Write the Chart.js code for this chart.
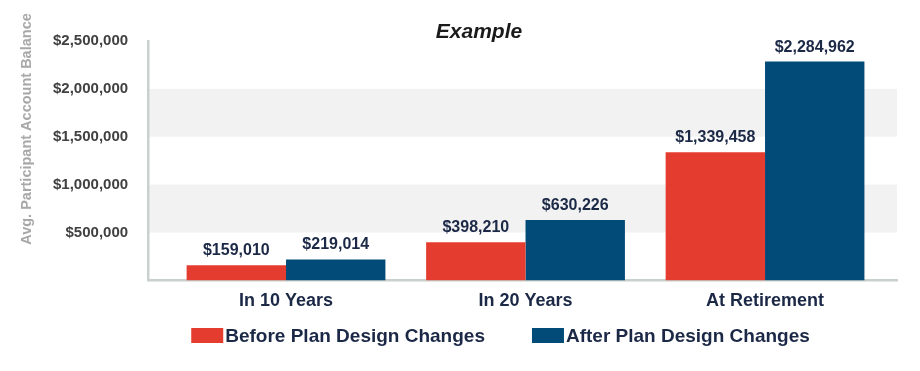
<!DOCTYPE html>
<html>
<head>
<meta charset="utf-8">
<script src="https://cdn.jsdelivr.net/npm/chart.js@4.4.1/dist/chart.umd.min.js"></script>
<style>
  html, body { margin: 0; padding: 0; background: #ffffff; }
  #wrap { width: 920px; height: 371px; position: relative; }
</style>
</head>
<body>
<div id="wrap"><canvas id="c"></canvas></div>
<script>
// ---- data ----
const categories = ['In 10 Years', 'In 20 Years', 'At Retirement'];
const seriesNames = ['Before Plan Design Changes', 'After Plan Design Changes'];
const beforeValues = [159010, 398210, 1339458];
const afterValues = [219014, 630226, 2284962];
const yTickValues = [500000, 1000000, 1500000, 2000000, 2500000];
const chartTitle = 'Example';
const yAxisTitle = 'Avg. Participant Account Balance';

// ---- style ----
const FONT = "'Liberation Sans', Arial, Helvetica, sans-serif";
const RED = '#E43D30';
const BLUE = '#024A77';
const NAVY = '#1B2846';
const AXIS = '#C8D1CC';
const BAND = '#F2F2F2';

const fmt = v => '$' + v.toLocaleString('en-US');

const bandsPlugin = {
  id: 'bands',
  beforeDraw(chart) {
    const {ctx, chartArea, scales: {y}} = chart;
    ctx.save();
    ctx.fillStyle = BAND;
    for (let i = 0; i + 1 < yTickValues.length; i += 2) {
      const y1 = y.getPixelForValue(yTickValues[i + 1]);
      const y0 = y.getPixelForValue(yTickValues[i]);
      ctx.fillRect(chartArea.left, y1, chartArea.right - chartArea.left, y0 - y1);
    }
    ctx.restore();
  }
};

const labelsPlugin = {
  id: 'valueLabels',
  afterDatasetsDraw(chart) {
    const {ctx} = chart;
    ctx.save();
    ctx.font = 'bold 16px ' + FONT;
    ctx.fillStyle = NAVY;
    ctx.textAlign = 'center';
    ctx.textBaseline = 'alphabetic';
    chart.data.datasets.forEach((ds, di) => {
      const meta = chart.getDatasetMeta(di);
      meta.data.forEach((bar, i) => {
        ctx.fillText(fmt(ds.data[i].y), bar.x, bar.y - 10);
      });
    });
    ctx.restore();
  }
};

const textPlugin = {
  id: 'texts',
  afterDraw(chart) {
    const {ctx, chartArea} = chart;
    ctx.save();
    // title
    ctx.font = 'italic bold 21px ' + FONT;
    ctx.fillStyle = '#1A1A1A';
    ctx.textAlign = 'center';
    ctx.textBaseline = 'alphabetic';
    ctx.fillText(chartTitle, 479, 38);
    // y axis title
    ctx.save();
    ctx.translate(27, 129);
    ctx.rotate(-Math.PI / 2);
    ctx.font = 'bold 14.5px ' + FONT;
    ctx.fillStyle = '#A8A8A8';
    ctx.textAlign = 'center';
    ctx.textBaseline = 'middle';
    ctx.fillText(yAxisTitle, 0, 0);
    ctx.restore();
    // legend
    const boxW = 32, boxH = 15, gap = 2, itemGap = 47;
    ctx.font = 'bold 19px ' + FONT;
    const items = chart.data.datasets.map(ds => ({
      text: ds.label, color: ds.backgroundColor, w: ctx.measureText(ds.label).width
    }));
    const total = items.reduce((s, it) => s + boxW + gap + it.w, 0) + itemGap * (items.length - 1);
    const centerX = (chartArea.left + chartArea.right) / 2 - 22;
    const cy = 335.5;
    let x = centerX - total / 2;
    ctx.textAlign = 'left';
    ctx.textBaseline = 'middle';
    items.forEach(it => {
      ctx.fillStyle = it.color;
      ctx.fillRect(x, cy - boxH / 2, boxW, boxH);
      x += boxW + gap;
      ctx.fillStyle = NAVY;
      ctx.fillText(it.text, x, cy + 1);
      x += it.w + itemGap;
    });
    ctx.restore();
  }
};

Chart.defaults.font.family = FONT;

new Chart(document.getElementById('c'), {
  type: 'bar',
  data: {
    datasets: [
      {
        label: seriesNames[0],
        data: beforeValues.map((v, i) => ({x: i, y: v})),
        backgroundColor: RED,
        borderWidth: 0
      },
      {
        label: seriesNames[1],
        data: afterValues.map((v, i) => ({x: i, y: v})),
        backgroundColor: BLUE,
        borderWidth: 0
      }
    ]
  },
  options: {
    responsive: true,
    maintainAspectRatio: false,
    animation: false,
    categoryPercentage: 0.83,
    barPercentage: 1.0,
    layout: { padding: { left: 33, right: 23, top: 41, bottom: 49 } },
    plugins: {
      legend: { display: false },
      title: { display: false },
      tooltip: { enabled: false }
    },
    scales: {
      x: {
        type: 'linear',
        offset: false,
        min: -0.576,
        max: 2.551,
        afterBuildTicks: axis => { axis.ticks = categories.map((c, i) => ({value: i})); },
        ticks: {
          callback: v => categories[v] ?? '',
          font: { size: 18, weight: 'bold' },
          color: NAVY,
          padding: 10,
          maxRotation: 0,
          autoSkip: false
        },
        grid: { display: false, drawTicks: false, offset: false },
        border: { display: true, color: AXIS, width: 2.5 }
      },
      y: {
        min: 0,
        max: 2500000,
        afterBuildTicks: axis => { axis.ticks = yTickValues.map(v => ({value: v})); },
        ticks: {
          callback: v => fmt(v),
          font: { size: 15, weight: 'bold' },
          color: '#404040',
          padding: 20
        },
        grid: { display: false, drawTicks: false },
        border: { display: true, color: AXIS, width: 2.5 }
      }
    }
  },
  plugins: [bandsPlugin, labelsPlugin, textPlugin]
});
</script>
</body>
</html>
